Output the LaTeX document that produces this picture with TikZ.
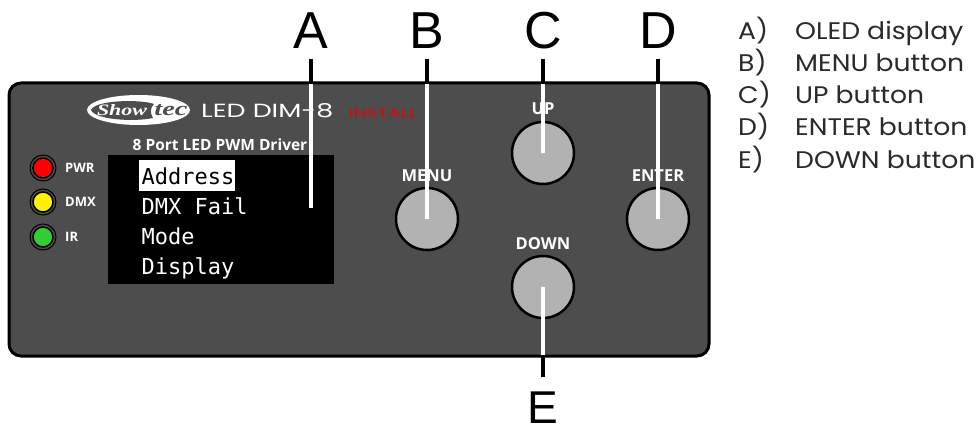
\documentclass[tikz,border=0pt]{standalone}
\usepackage{graphicx}
\usepackage{fontspec}
\setmainfont{Liberation Sans}
\newfontfamily\listfont[FakeStretch=1.11]{Poppins}
\newfontfamily\logofont{Poppins}
\newfontfamily\swooshfont{Liberation Serif}
\newfontfamily\panelfont{Open Sans}
\newfontfamily\oledfont{DejaVu Sans Mono}
\definecolor{panelgrey}{HTML}{4D4D4D}
\definecolor{btngrey}{HTML}{B2B2B2}
\definecolor{listgrey}{HTML}{2A2A2A}
\definecolor{ledgreen}{HTML}{33CC33}
\definecolor{installred}{HTML}{F00000}
\tikzset{
  letterlabel/.style={font=\fontsize{52}{52}\selectfont,text=black,inner sep=0pt,anchor=base},
  listtext/.style={font=\listfont\fontsize{24}{24}\selectfont,text=listgrey,inner sep=0pt,anchor=base west},
  subcap/.style={font=\panelfont\bfseries\fontsize{15.5}{15.5}\selectfont,text=white,inner sep=0pt},
  btncap/.style={font=\panelfont\bfseries\fontsize{16.5}{16.5}\selectfont,text=white,inner sep=0pt},
  ledcap/.style={font=\panelfont\bfseries\fontsize{13}{13}\selectfont,text=white,inner sep=0pt,anchor=west},
  oled/.style={font=\oledfont\fontsize{22}{22}\selectfont,text=white,inner sep=0pt,anchor=base west},
  btn/.style={circle,draw=black,line width=2.5pt,fill=btngrey,minimum size=62pt,inner sep=0pt},
  led/.style={circle,draw=black,line width=1.5pt,minimum size=20pt,inner sep=0pt},
  ledring/.style={circle,draw=black,fill=panelgrey,line width=1pt,minimum size=26pt,inner sep=0pt},
  blackline/.style={draw=black,line width=3.5pt},
  whiteline/.style={draw=white,line width=3.5pt},
}
\begin{document}
\begin{tikzpicture}[x=1pt,y=-1pt]
\useasboundingbox (0,0) rectangle (980,425);
\fill[white] (0,0) rectangle (980,425);
% panel
\draw[fill=panelgrey,draw=black,line width=3pt,rounded corners=12pt] (9,83) rectangle (709,356);
% logo
\fill[white] (138.5,110) ellipse [x radius=51.5pt,y radius=15pt];
\fill[panelgrey] (91,110) .. controls (95,100) and (140,99) .. (154,104) .. controls (150,108) and (150,113) .. (153,118) .. controls (135,122) and (95,120) .. (91,110) -- cycle;
\node[inner sep=0pt,text=white] (logoa) at (122,110) {\resizebox{50pt}{11pt}{\swooshfont\bfseries\itshape Show}};
\node[inner sep=0pt,text=panelgrey] (logob) at (171,110) {\resizebox{33pt}{11pt}{\swooshfont\bfseries\itshape tec}};
\node[inner sep=0pt,text=white,anchor=west] (logoc) at (201,110.5) {\resizebox{132pt}{14pt}{\logofont LED DIM-8}};
\node[inner sep=0pt,text=installred,anchor=west] (logod) at (349,114) {\resizebox{68pt}{8pt}{\logofont INSTALL}};
\node[subcap] (sub) at (220,145) {8 Port LED PWM Driver};
% display
\fill[black] (108,155) rectangle (334,284);
\fill[white] (139,160) rectangle (235,191);
\node[oled,text=black] (m1) at (141.5,184) {Address};
\node[oled] (m2) at (141.5,214) {DMX Fail};
\node[oled] (m3) at (141.5,244) {Mode};
\node[oled] (m4) at (141.5,274) {Display};
% LEDs
\node[ledring] at (43,168) {}; \node[led,fill=red] (l1) at (43,168) {};
\node[ledring] at (43,202) {}; \node[led,fill=yellow] (l2) at (43,202) {};
\node[ledring] at (43,237) {}; \node[led,fill=ledgreen] (l3) at (43,237) {};
\node[ledcap] (c1) at (65,168) {PWR};
\node[ledcap] (c2) at (65,202) {DMX};
\node[ledcap] (c3) at (65,237) {IR};
% buttons
\node[btn] (menu) at (427,219) {};
\node[btn] (up) at (543,153) {};
\node[btn] (enter) at (658,219) {};
\node[btn] (down) at (543,287) {};
\node[btncap] (tm) at (427,176) {MENU};
\node[btncap] (tu) at (543,109) {UP};
\node[btncap] (te) at (658,176) {ENTER};
\node[btncap] (td) at (543,243.5) {DOWN};
% letters
\node[letterlabel] (A) at (311,49) {A};
\node[letterlabel] (B) at (427,49) {B};
\node[letterlabel] (C) at (543,49) {C};
\node[letterlabel] (D) at (658,49) {D};
\node[letterlabel,font=\fontsize{46}{46}\selectfont] (E) at (543,423) {E};
% anchors
\coordinate (ta) at (311,59); \coordinate (tb) at (427,59); \coordinate (tc) at (543,59); \coordinate (td2) at (658,59); \coordinate (te2) at (543,377);
\coordinate (pa) at (311,84); \coordinate (pb) at (427,84); \coordinate (pc) at (543,84); \coordinate (pd) at (658,84); \coordinate (pe) at (543,355);
\coordinate (ea) at (311,208);
% leaders
\draw[blackline] (ta) -- (pa); \draw[whiteline] (pa) -- (ea);
\draw[blackline] (tb) -- (pb); \draw[whiteline] (pb) -- (menu.center);
\draw[blackline] (tc) -- (pc); \draw[whiteline] (pc) -- (up.center);
\draw[blackline] (td2) -- (pd); \draw[whiteline] (pd) -- (enter.center);
\draw[blackline] (te2) -- (pe); \draw[whiteline] (pe) -- (down.center);
% list
\foreach \k/\t/\y in {A/OLED display/40,B/MENU button/72,C/UP button/104,D/ENTER button/136,E/DOWN button/168}{
  \node[listtext] (k\k) at (738,\y) {\k)};
  \node[listtext] (v\k) at (795,\y) {\t};
}
\end{tikzpicture}
\end{document}
